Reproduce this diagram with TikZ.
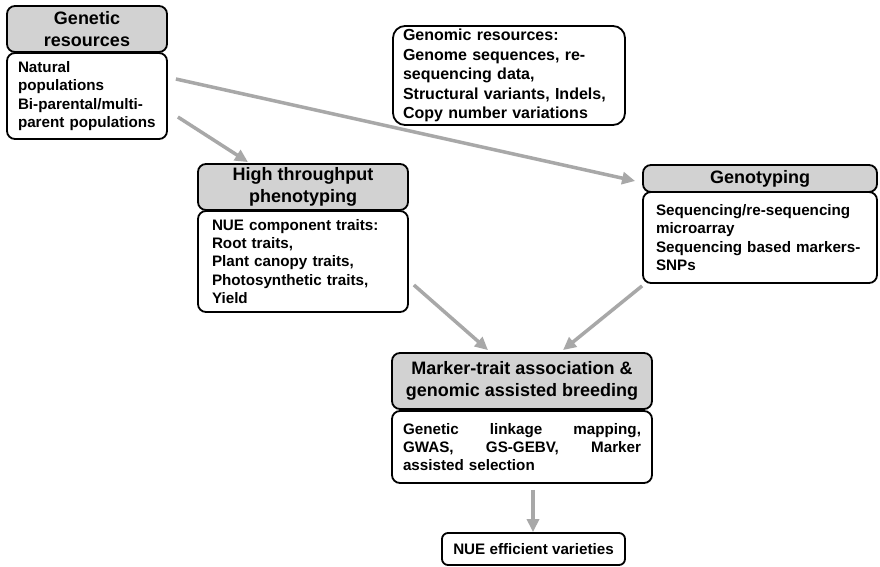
\documentclass[tikz,border=0pt]{standalone}
\usepackage{fontspec}
\setmainfont{Liberation Sans}
\usetikzlibrary{arrows.meta}
\definecolor{hdrgray}{RGB}{210,210,210}
\definecolor{arrgray}{RGB}{168,168,168}
\begin{document}
\begin{tikzpicture}[x=1pt,y=-1pt,
  hdr/.style={draw, line width=1.8pt, rounded corners=8pt, fill=hdrgray,
    font=\fontsize{18}{22}\selectfont\bfseries, align=center, inner sep=0pt},
  bodybox/.style={draw, line width=1.8pt, rounded corners=8pt, fill=white,
    font=\fontsize{15.2}{18.3}\selectfont\bfseries, align=left, inner ysep=0pt},
  arr/.style={draw=arrgray, line width=3.5pt, -{Triangle[length=13pt,width=12pt]}}]
\useasboundingbox[fill=white] (0,0) rectangle (880,567);

% Genetic resources
\node[hdr, minimum width=160pt, minimum height=46pt] (grh) at (87,29) {Genetic\\resources};
\node[bodybox, minimum width=160pt, minimum height=86pt, text width=138pt, inner xsep=11pt] (grb) at (87,96)
  {Natural\\populations\\Bi-parental/multi-\\parent populations};

% Genomic resources
\node[bodybox, rounded corners=12pt, minimum width=232pt, minimum height=99pt, text width=212pt, inner xsep=10pt,
  font=\fontsize{16}{19.6}\selectfont\bfseries] (gen) at (509,75.5)
  {Genomic resources:\\Genome sequences, re-\\sequencing data,\\Structural variants, Indels,\\Copy number variations};

% High throughput phenotyping
\node[hdr, minimum width=210pt, minimum height=46pt] (hth) at (303,187) {High throughput\\phenotyping};
\node[bodybox, minimum width=210pt, minimum height=101pt, text width=182pt, inner xsep=14pt] (htb) at (303,261.5)
  {NUE component traits:\\Root traits,\\Plant canopy traits,\\Photosynthetic traits,\\Yield};

% Genotyping
\node[hdr, minimum width=234pt, minimum height=27pt] (gth) at (760,178.5) {Genotyping};
\node[bodybox, minimum width=234pt, minimum height=91pt, text width=208pt, inner xsep=13pt] (gtb) at (760,237.5)
  {Sequencing/re-sequencing\\microarray\\Sequencing based markers-\\SNPs};

% Marker-trait association
\node[hdr, minimum width=260pt, minimum height=56pt] (mth) at (522,381)
  {Marker-trait association \&\\genomic assisted breeding};
\node[bodybox, minimum width=260pt, minimum height=72pt, text width=238pt, inner xsep=11pt] (mtb) at (522,447)
  {Genetic\hfill linkage\hfill mapping,\\GWAS,\hfill GS-GEBV,\hfill Marker\\assisted selection};

% NUE efficient varieties
\node[bodybox, rounded corners=6pt, minimum width=183pt, minimum height=32pt, align=center] (nue) at (533.5,549)
  {NUE efficient varieties};

% connectors
\coordinate (m5) at ([xshift=11pt,yshift=-6pt]mtb.south);
\draw[arr] ([xshift=8pt,yshift=17pt]grb.east) -- ([xshift=-7pt,yshift=-2.5pt]gth.west);
\draw[arr] ([xshift=10pt,yshift=-21pt]grb.east) -- ([xshift=-55pt,yshift=1pt]hth.north);
\draw[arr] ([xshift=5pt,yshift=-23.5pt]htb.east) -- ([xshift=-34pt,yshift=2pt]mth.north);
\draw[arr] ([yshift=-2pt]gtb.south west) -- ([xshift=41pt,yshift=2pt]mth.north);
\draw[arr] (m5) -- (m5 |- nue.north);
\end{tikzpicture}
\end{document}
